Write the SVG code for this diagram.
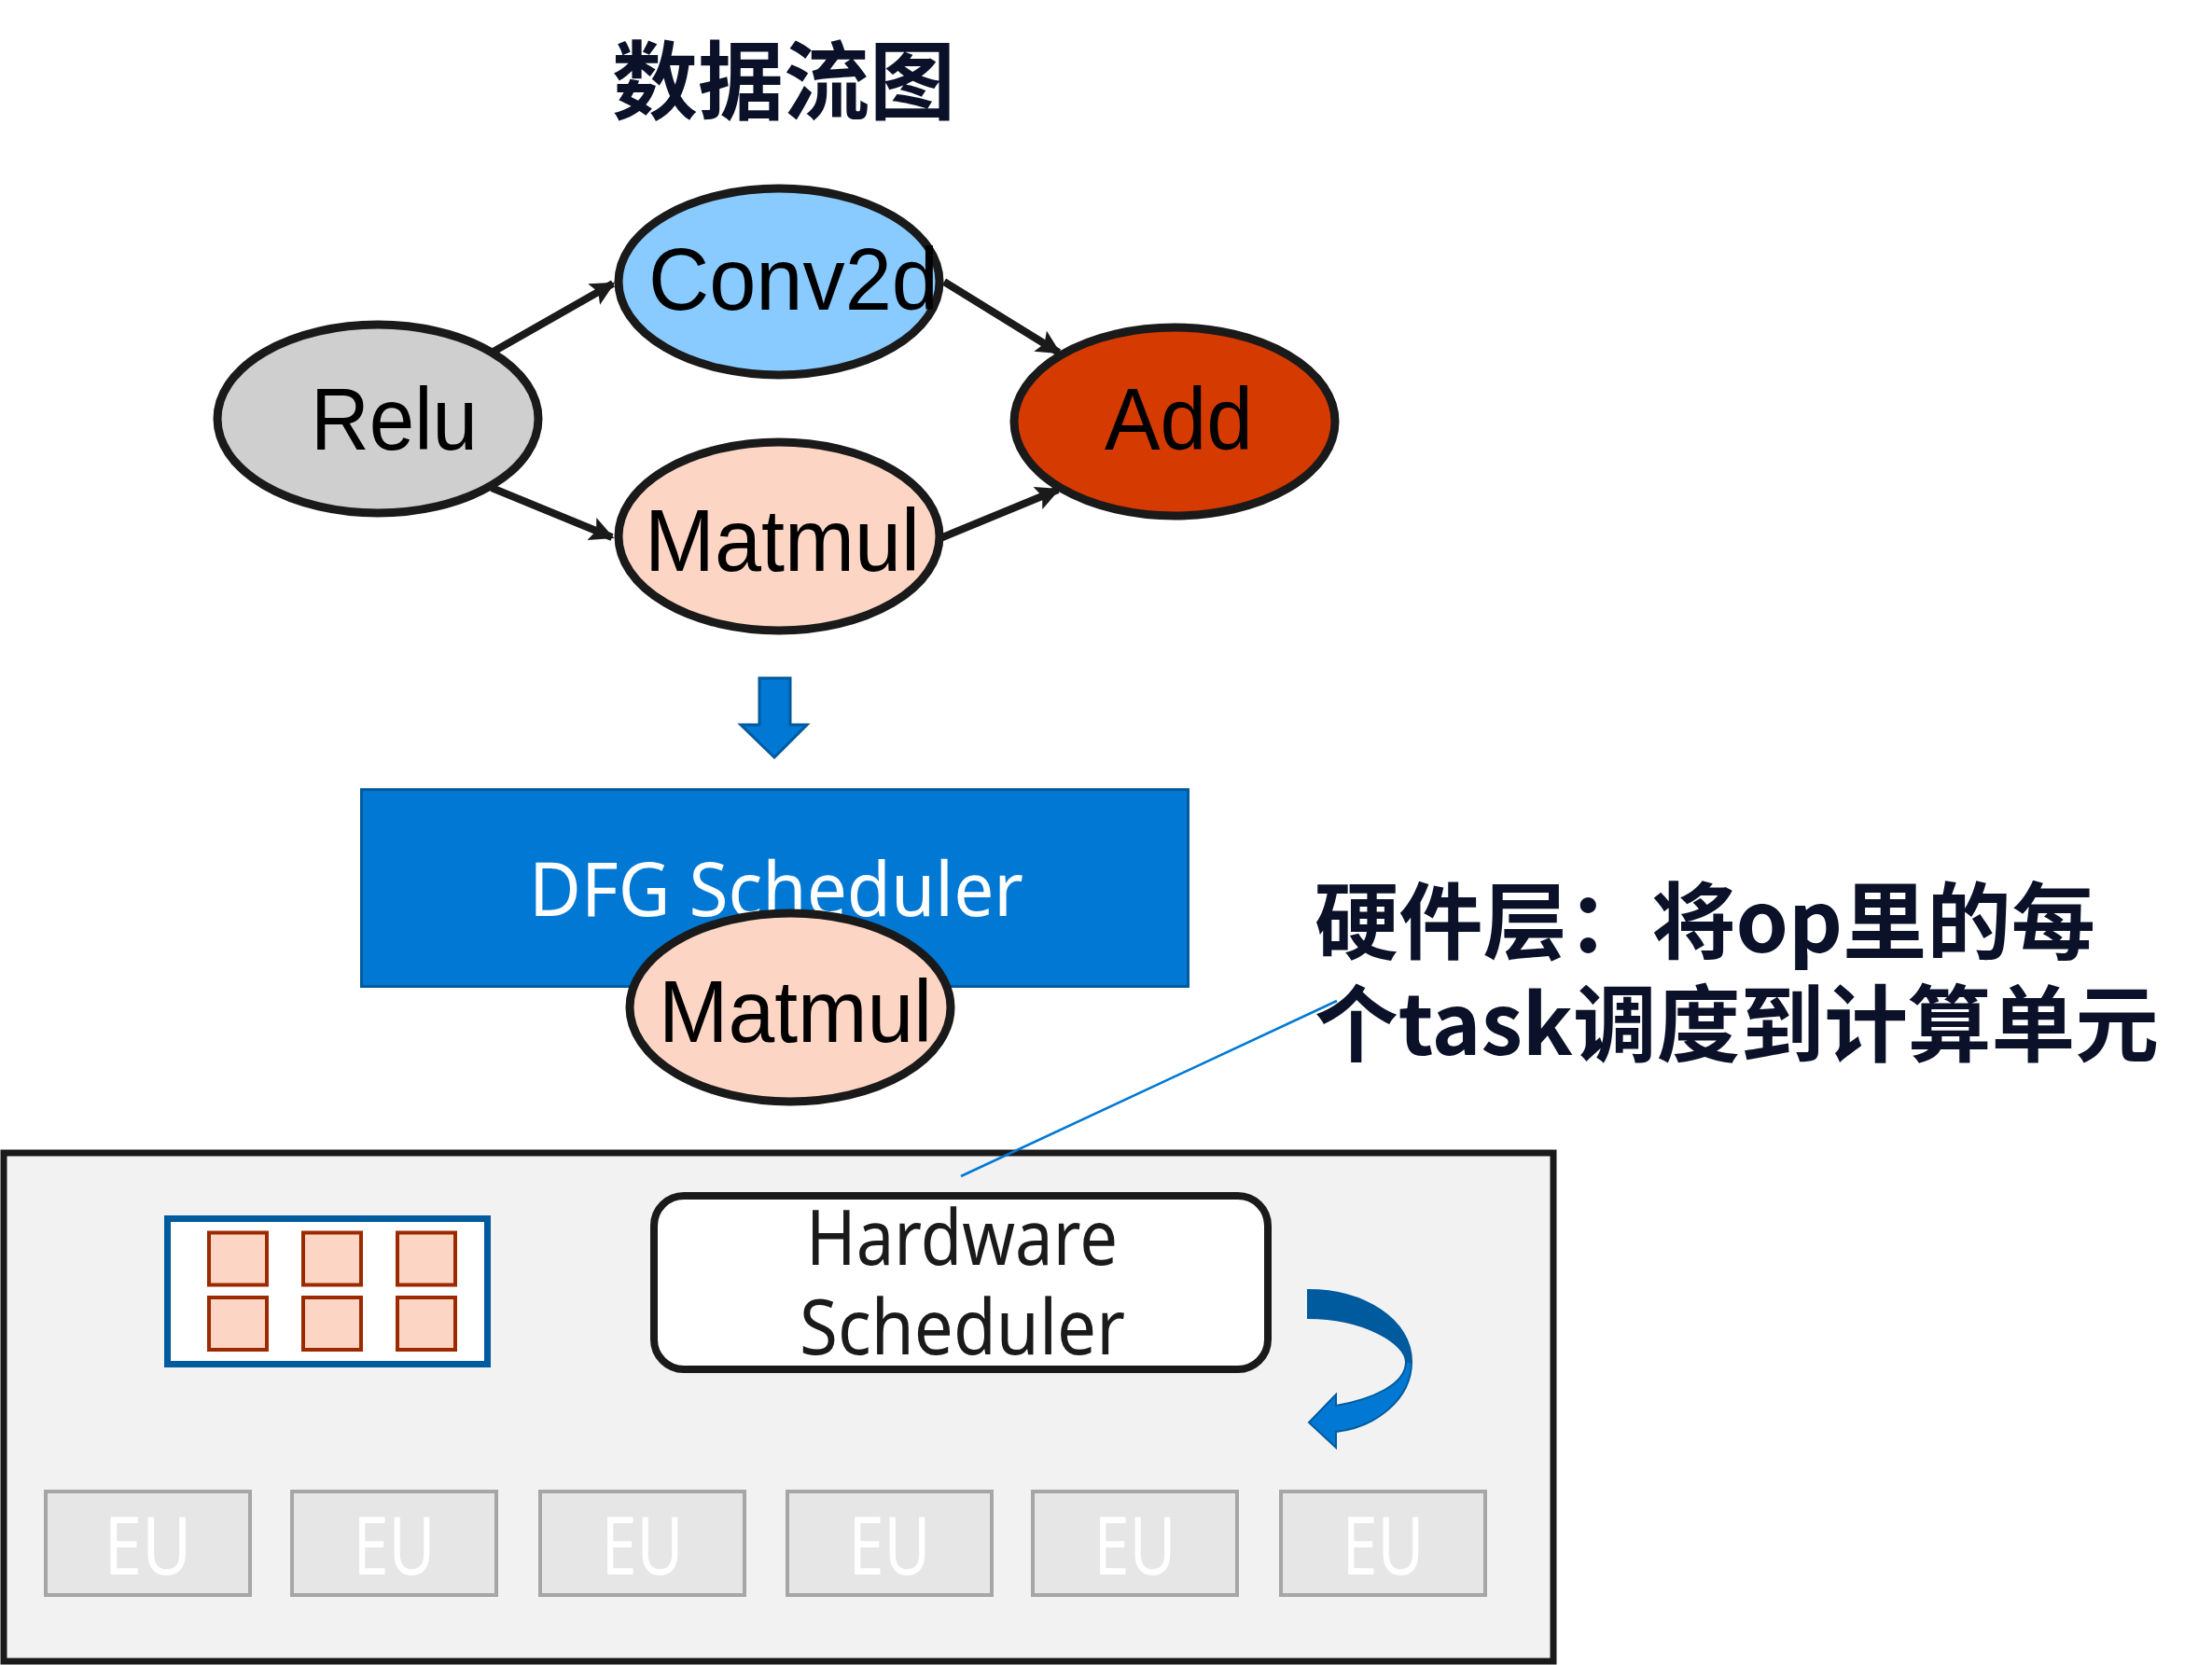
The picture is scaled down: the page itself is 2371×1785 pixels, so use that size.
<svg xmlns="http://www.w3.org/2000/svg" width="2371" height="1785" viewBox="0 0 2371 1785">
<defs>
<style>
.node{stroke:#1a1a1a;stroke-width:9}
.lbl{font-family:"Liberation Sans",Arial,sans-serif;font-size:94px;fill:#000;text-anchor:start}
.seg{font-family:"Noto Sans","Open Sans",sans-serif}
.cjk{font-family:"Noto Sans CJK SC","Noto Sans",sans-serif;font-weight:bold;fill:#0B1128}
.edge{stroke:#1a1a1a;stroke-width:8;fill:none}
.eu rect{fill:#E6E6E6;stroke:#A6A6A6;stroke-width:4}
.eu text{font-family:"Noto Sans","Open Sans",sans-serif;font-size:86px;fill:#fff;text-anchor:middle}
.cell{fill:#FDD5C5;stroke:#9C2A00;stroke-width:4}
</style>
<marker id="ah" viewBox="0 0 10 10" refX="9" refY="5" markerWidth="26" markerHeight="26" markerUnits="userSpaceOnUse" orient="auto">
<path d="M0,0 L10,5 L0,10 L2,5 Z" fill="#1a1a1a"/>
</marker>
</defs>
<rect width="2371" height="1785" fill="#fff"/>

<text id="title" class="cjk" x="840" y="121" font-size="92" text-anchor="middle">数据流图</text>

<g id="connectors">
<line class="edge" x1="527" y1="378" x2="657" y2="304" marker-end="url(#ah)"/>
<line class="edge" x1="1012" y1="302" x2="1135" y2="378" marker-end="url(#ah)"/>
<line class="edge" x1="527" y1="523" x2="656" y2="576" marker-end="url(#ah)"/>
<line class="edge" x1="1008" y1="577" x2="1134" y2="525" marker-end="url(#ah)"/>
</g>

<g id="relu">
<ellipse class="node" cx="405" cy="449" rx="172" ry="101" fill="#CFCFCF"/>
<text class="lbl" x="333" y="482" textLength="179" lengthAdjust="spacingAndGlyphs">Relu</text>
</g>
<g id="conv2d">
<ellipse class="node" cx="835" cy="302" rx="172" ry="100" fill="#89CAFF"/>
<text class="lbl" x="695" y="332" textLength="311" lengthAdjust="spacingAndGlyphs">Conv2d</text>
</g>
<g id="matmul">
<ellipse class="node" cx="835" cy="575" rx="172" ry="101" fill="#FDD5C5"/>
<text class="lbl" x="691" y="612" textLength="295" lengthAdjust="spacingAndGlyphs">Matmul</text>
</g>
<g id="add">
<ellipse class="node" cx="1259" cy="452" rx="172" ry="101" fill="#D53A00"/>
<text class="lbl" x="1184" y="482" textLength="159" lengthAdjust="spacingAndGlyphs">Add</text>
</g>

<g id="down-arrow">
<polygon points="814,727 847,727 847,777 865,777 830,812 794,777 814,777" fill="#0078D4" stroke="#005A9E" stroke-width="3"/>
</g>

<g id="dfg-scheduler">
<rect x="387.5" y="846.5" width="886" height="211" fill="#0078D4" stroke="#005A9E" stroke-width="3"/>
<text class="seg" x="567" y="982" font-size="80" fill="#fff" textLength="530" lengthAdjust="spacingAndGlyphs">DFG Scheduler</text>
</g>

<g id="matmul-task">
<ellipse class="node" cx="847" cy="1080" rx="172" ry="101" fill="#FDD5C5"/>
<text class="lbl" x="706" y="1117" textLength="293" lengthAdjust="spacingAndGlyphs">Matmul</text>
</g>

<g id="hardware-panel">
<rect x="4" y="1236" width="1661" height="545" fill="#F2F2F2" stroke="#1a1a1a" stroke-width="7"/>
</g>

<g id="callout">
<line x1="1030" y1="1261" x2="1433" y2="1073" stroke="#0078D4" stroke-width="2.5"/>
<text class="cjk" x="1409" y="1021" font-size="90" textLength="837" lengthAdjust="spacingAndGlyphs">硬件层：将op里的每</text>
<text class="cjk" x="1409" y="1131" font-size="90" textLength="905" lengthAdjust="spacingAndGlyphs">个task调度到计算单元</text>
</g>

<g id="grid-icon">
<rect x="179.5" y="1306.5" width="343" height="156" fill="#fff" stroke="#005A9E" stroke-width="7"/>
<rect class="cell" x="224" y="1321.5" width="62" height="56"/>
<rect class="cell" x="325" y="1321.5" width="62" height="56"/>
<rect class="cell" x="426" y="1321.5" width="62" height="56"/>
<rect class="cell" x="224" y="1391" width="62" height="56"/>
<rect class="cell" x="325" y="1391" width="62" height="56"/>
<rect class="cell" x="426" y="1391" width="62" height="56"/>
</g>

<g id="hardware-scheduler">
<rect x="701" y="1282" width="658" height="186" rx="32" fill="#fff" stroke="#1a1a1a" stroke-width="8"/>
<text class="seg" x="864" y="1356" font-size="82" fill="#1a1a1a" textLength="334" lengthAdjust="spacingAndGlyphs">Hardware</text>
<text class="seg" x="857" y="1452" font-size="82" fill="#1a1a1a" textLength="349" lengthAdjust="spacingAndGlyphs">Scheduler</text>
</g>

<g id="curved-arrow">
<path d="M1402,1383 C1462,1383 1513,1415 1513,1460 L1507,1460 C1507,1440 1462,1413 1402,1413 Z" fill="#005A9E" stroke="#005A9E" stroke-width="2"/>
<path d="M1513,1460 C1513,1500 1475,1530 1432,1535 L1432,1552 L1403,1525 L1432,1495 L1432,1507 C1470,1500 1507,1485 1507,1460 Z" fill="#0078D4" stroke="#005A9E" stroke-width="2"/>
</g>

<g id="eu1" class="eu"><rect x="49" y="1599" width="219" height="111"/><text x="158.5" y="1688" textLength="94" lengthAdjust="spacingAndGlyphs">EU</text></g>
<g id="eu2" class="eu"><rect x="313" y="1599" width="219" height="111"/><text x="422.5" y="1688" textLength="88" lengthAdjust="spacingAndGlyphs">EU</text></g>
<g id="eu3" class="eu"><rect x="579" y="1599" width="219" height="111"/><text x="688.5" y="1688" textLength="88" lengthAdjust="spacingAndGlyphs">EU</text></g>
<g id="eu4" class="eu"><rect x="844" y="1599" width="219" height="111"/><text x="953.5" y="1688" textLength="88" lengthAdjust="spacingAndGlyphs">EU</text></g>
<g id="eu5" class="eu"><rect x="1107" y="1599" width="219" height="111"/><text x="1216.5" y="1688" textLength="88" lengthAdjust="spacingAndGlyphs">EU</text></g>
<g id="eu6" class="eu"><rect x="1373" y="1599" width="219" height="111"/><text x="1482.5" y="1688" textLength="88" lengthAdjust="spacingAndGlyphs">EU</text></g>
</svg>
